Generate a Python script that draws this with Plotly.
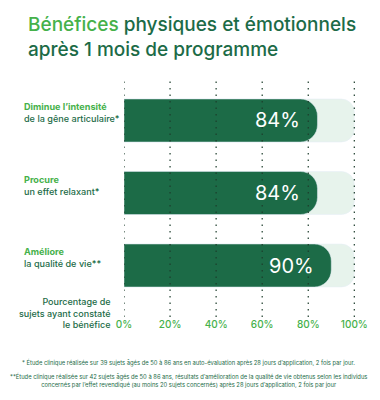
import plotly.graph_objects as go

categories = ["Diminue", "Procure", "Améliore"]
label_top = ["Diminue l’intensité", "Procure", "Améliore"]
label_bottom = ["de la gêne articulaire*", "un effet relaxant*", "la qualité de vie**"]
values = [84, 84, 90]
full = [100, 100, 100]
tick_vals = [0, 20, 40, 60, 80, 100]
tick_text = ["0%", "20%", "40%", "60%", "80%", "100%"]

DARK = "#1c6b47"
BRIGHT = "#45b14a"
LIGHT = "#e7f3ec"
FONT = "Inter"

L, R, T, B = 124, 19, 78, 83
PW = 380 - L - R
PH = 400 - T - B
def px(x):
    return (x - L) / PW
def py(y):
    return (400 - B - y) / PH

fig = go.Figure()
fig.add_trace(go.Bar(y=categories, x=full, orientation="h", marker=dict(color=LIGHT, cornerradius=13),
                     width=0.593, hoverinfo="skip", yaxis="y"))
fig.add_trace(go.Bar(y=categories, x=values, orientation="h", marker=dict(color=DARK, cornerradius=17),
                     width=0.593, hoverinfo="skip", yaxis="y2"))

shapes = [dict(type="line", xref="x", yref="paper", x0=t, x1=t, y0=0, y1=1, layer="above",
               line=dict(color="#1d3d2c", width=1.2, dash="1.5px,5px")) for t in tick_vals]

ann = []
for c, v in zip(categories, values):
    ann.append(dict(x=v, y=c, xref="x", yref="y", text=f"{v}%", showarrow=False, xanchor="right",
                    xshift=-15, font=dict(family=FONT, size=20, color="white")))
for c, a, b in zip(categories, label_top, label_bottom):
    ann.append(dict(x=px(19), y=c, xref="paper", yref="y", yshift=8, showarrow=False, xanchor="left",
                    align="left",
                    text=f"<span style='color:{BRIGHT};font-weight:700'>{a}</span><br>{b}",
                    font=dict(family=FONT, size=9.1, color=DARK, weight=500)))
ann.append(dict(x=px(23), y=py(37), xref="paper", yref="paper", showarrow=False, xanchor="left",
                align="left", yanchor="middle",
                text=f"<span style='color:{BRIGHT}'>Bénéfices</span> physiques et émotionnels<br>après 1 mois de programme",
                font=dict(family=FONT, size=19, color=DARK, weight=500)))
ann.append(dict(x=px(113), y=py(313), xref="paper", yref="paper", showarrow=False, xanchor="right",
                align="right", yanchor="middle",
                text="Pourcentage de<br>sujets ayant constaté<br>le bénéfice",
                font=dict(family=FONT, size=9, color=DARK, weight=500)))
ann.append(dict(x=px(190), y=py(362), xref="paper", yref="paper", showarrow=False, xanchor="center",
                yanchor="middle",
                text="* Étude clinique réalisée sur 39 sujets âgés de 50 à 86 ans en auto-évaluation après 28 jours d’application, 2 fois par jour.",
                font=dict(family=FONT, size=5.8, color=DARK)))
ann.append(dict(x=px(190), y=py(380.5), xref="paper", yref="paper", showarrow=False, xanchor="center",
                yanchor="middle", align="center",
                text="**Étude clinique réalisée sur 42 sujets âgés de 50 à 86 ans, résultats d’amélioration de la qualité de vie obtenus selon les individus<br>concernés par l’effet revendiqué (au moins 20 sujets concernés) après 28 jours d’application, 2 fois par jour",
                font=dict(family=FONT, size=5.8, color=DARK)))

yax = dict(type="category", range=[2.71, -0.586], showticklabels=False, showgrid=False,
           zeroline=False, showline=False, fixedrange=True)
fig.update_layout(
    width=380, height=400, margin=dict(l=L, r=R, t=T, b=B),
    paper_bgcolor="white", plot_bgcolor="white",
    barmode="overlay", showlegend=False, annotations=ann, shapes=shapes,
    xaxis=dict(range=[0, 100.3], tickvals=tick_vals, ticktext=tick_text, showgrid=False,
               zeroline=False, showline=False,
               ticks="", tickfont=dict(family=FONT, size=10, color=BRIGHT, weight=500), fixedrange=True),
    yaxis=yax,
    yaxis2=dict(yax, overlaying="y"),
)
fig.write_html("out.html")
